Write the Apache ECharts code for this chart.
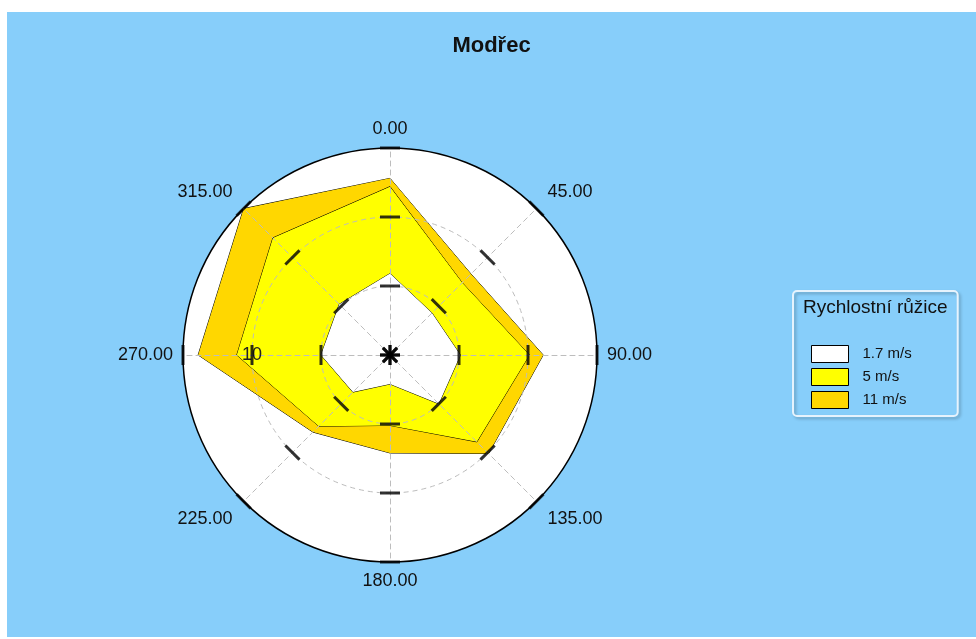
<!DOCTYPE html>
<html>
<head>
<meta charset="utf-8">
<script src="https://cdn.jsdelivr.net/npm/echarts@6/dist/echarts.min.js"></script>
<style>
  html, body { margin: 0; padding: 0; background: #fff; }
  #wrap { position: relative; width: 976px; height: 639px; background: #fff; }
  #chart { position: absolute; left: 7px; top: 12px; width: 969px; height: 625px; }
</style>
</head>
<body>
<div id="wrap"><div id="chart"></div></div>
<script>
// směry ve stupních (kompas, po směru hodinových ručiček)
const directionDeg = [0, 45, 90, 135, 180, 225, 270, 315];
const directions = directionDeg.map(d => d.toFixed(2));
const seriesNames = ['1.7 m/s', '5 m/s', '11 m/s'];
// kumulativní četnosti pro každý směr
const speedLow = [5.9, 4.3, 5.1, 5.0, 2.1, 3.8, 5.0, 5.2];
const speedMid = [12.2, 7.4, 10.1, 8.9, 5.1, 7.3, 11.1, 12.0];
const speedHigh = [12.8, 8.3, 11.1, 10.1, 7.1, 7.9, 13.9, 15.0];
const radialTicks = [0, 5, 10, 15];
const radialMax = 15;

const FONT = "'Liberation Sans', Arial, sans-serif";

// radar kreslí proti směru hodin, tak pořadí otočíme
const order = [0, 7, 6, 5, 4, 3, 2, 1];
const pick = arr => order.map(i => arr[i]);

const center = [383, 343];
const radius = 207;
const splitNumber = radialTicks.length - 1;

const indicatorPlain = order.map(i => ({ name: directions[i], min: 0, max: radialMax }));
const indicatorLabeled = order.map(i => {
  const o = { name: directions[i], min: 0, max: radialMax };
  if (directions[i] === '270.00') o.axisLabel = { show: true };
  return o;
});

// diagonální popisky jsou v originále posunuté víc ven
const nameStyle = { '45.00': 'ne', '315.00': 'nw', '135.00': 'se', '225.00': 'sw' };
const nameText = { color: '#111', fontSize: 18, fontFamily: FONT };

// tiky přes paprsky (kříží paprsek na obě strany)
const tickMarks = [];
directionDeg.forEach(d => {
  radialTicks.forEach(r => tickMarks.push({ value: [r, d], symbolRotate: -d }));
});

const clear = 'rgba(0,0,0,0)';

const chart = echarts.init(document.getElementById('chart'));
const option = {
  animation: false,
  backgroundColor: '#87CEFA',
  title: [
    {
      text: 'Modřec',
      left: 'center',
      top: 23,
      padding: 0,
      textStyle: { fontSize: 22, fontWeight: 'bold', color: '#111', fontFamily: FONT }
    },
    {
      text: 'Rychlostní růžice',
      left: 803 - 7,
      top: 286,
      padding: 0,
      textStyle: { fontSize: 19, fontWeight: 'normal', color: '#111', fontFamily: FONT }
    }
  ],
  legend: {
    orient: 'vertical',
    left: 786,
    top: 279,
    data: seriesNames,
    icon: 'rect',
    itemWidth: 37,
    itemHeight: 17,
    itemGap: 5,
    itemStyle: { borderColor: '#000', borderWidth: 1 },
    textStyle: { fontSize: 15, color: '#111', fontFamily: FONT, padding: [0, 0, 0, 9] },
    padding: [54, 46, 7, 18],
    borderColor: '#e6f3fd',
    borderWidth: 2,
    borderRadius: 4,
    shadowColor: 'rgba(0,0,0,0.25)',
    shadowBlur: 3,
    shadowOffsetX: 2,
    shadowOffsetY: 2
  },
  polar: { center, radius },
  angleAxis: { type: 'value', min: 0, max: 360, startAngle: 90, clockwise: true, show: false },
  radiusAxis: { type: 'value', min: 0, max: radialMax, show: false },
  radar: [
    {
      // bílé pozadí + černý obvod + popisky směrů
      center, radius, shape: 'circle', startAngle: 90, splitNumber, z: 1,
      indicator: indicatorPlain,
      nameGap: 10,
      axisName: {
        show: true, ...nameText,
        formatter: name => nameStyle[name] ? '{' + nameStyle[name] + '|' + name + '}' : name,
        rich: {
          ne: { ...nameText, padding: [0, 0, 20, 4] },
          nw: { ...nameText, padding: [0, 4, 20, 0] },
          se: { ...nameText, padding: [22, 0, 0, 4] },
          sw: { ...nameText, padding: [22, 4, 0, 0] }
        }
      },
      axisLine: { show: false },
      axisTick: { show: false },
      axisLabel: { show: false },
      splitLine: { show: true, lineStyle: { color: [clear, clear, clear, '#000'], width: 1.5 } },
      splitArea: { show: true, areaStyle: { color: ['#fff'] } }
    },
    {
      // čárkovaná mřížka nad plochami + popisek 10
      center, radius, shape: 'circle', startAngle: 90, splitNumber, z: 10,
      indicator: indicatorLabeled,
      axisName: { show: false },
      axisLine: { show: true, lineStyle: { color: '#bdbdbd', type: [5, 4], width: 1 } },
      axisTick: { show: false },
      axisLabel: {
        show: false, color: '#222', fontSize: 18, fontFamily: FONT, margin: -9,
        formatter: v => (v === 10 ? '10' : '')
      },
      splitLine: { show: true, lineStyle: { color: ['#bdbdbd', '#bdbdbd', '#bdbdbd', clear], type: [5, 4], width: 1 } },
      splitArea: { show: false }
    }
  ],
  series: [
    {
      name: '11 m/s', type: 'radar', radarIndex: 0, symbol: 'none',
      itemStyle: { color: '#FFD700' },
      lineStyle: { color: '#000', width: 1 },
      areaStyle: { color: '#FFD700', opacity: 1 },
      data: [{ name: '11 m/s', value: pick(speedHigh) }]
    },
    {
      name: '5 m/s', type: 'radar', radarIndex: 0, symbol: 'none',
      itemStyle: { color: '#FFFF00' },
      lineStyle: { color: '#000', width: 1 },
      areaStyle: { color: '#FFFF00', opacity: 1 },
      data: [{ name: '5 m/s', value: pick(speedMid) }]
    },
    {
      name: '1.7 m/s', type: 'radar', radarIndex: 0, symbol: 'none',
      itemStyle: { color: '#FFFFFF' },
      lineStyle: { color: '#000', width: 1 },
      areaStyle: { color: '#FFFFFF', opacity: 1 },
      data: [{ name: '1.7 m/s', value: pick(speedLow) }]
    },
    {
      type: 'scatter', coordinateSystem: 'polar', silent: true, z: 12,
      symbol: 'rect', symbolSize: [20, 3],
      itemStyle: { color: '#000' },
      data: tickMarks
    }
  ]
};
chart.setOption(option);
</script>
</body>
</html>
